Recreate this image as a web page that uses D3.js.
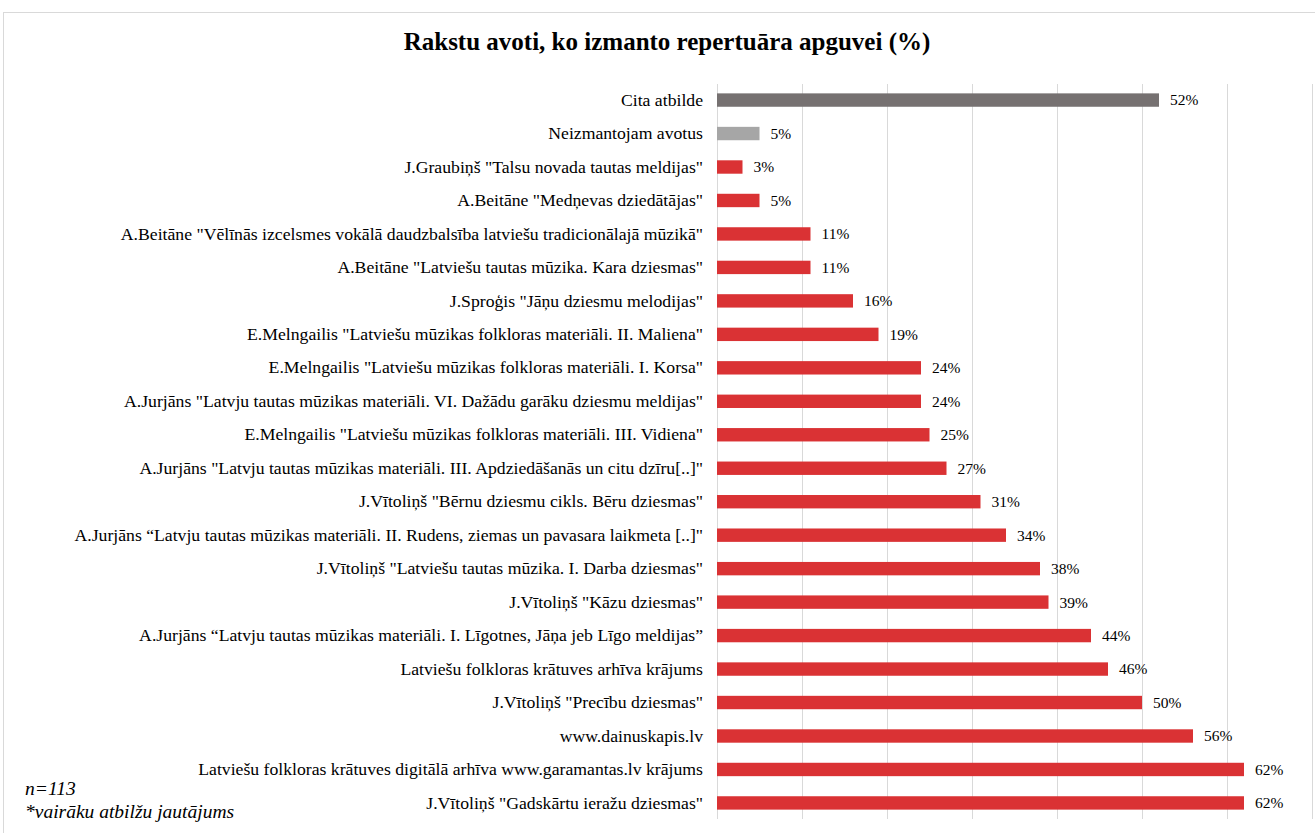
<!DOCTYPE html>
<html>
<head>
<meta charset="utf-8">
<script src="https://cdn.jsdelivr.net/npm/d3@7"></script>
<style>
  body { margin: 0; background: #fff; }
  svg { display: block; font-family: "Liberation Serif", "Times New Roman", serif; }
</style>
</head>
<body>
<script>
// Data, top to bottom as shown
const categories = [
  'Cita atbilde',
  'Neizmantojam avotus',
  'J.Graubiņš "Talsu novada tautas meldijas"',
  'A.Beitāne "Medņevas dziedātājas"',
  'A.Beitāne "Vēlīnās izcelsmes vokālā daudzbalsība latviešu tradicionālajā mūzikā"',
  'A.Beitāne "Latviešu tautas mūzika. Kara dziesmas"',
  'J.Sproģis "Jāņu dziesmu melodijas"',
  'E.Melngailis "Latviešu mūzikas folkloras materiāli. II. Maliena"',
  'E.Melngailis "Latviešu mūzikas folkloras materiāli. I. Korsa"',
  'A.Jurjāns "Latvju tautas mūzikas materiāli. VI. Dažādu garāku dziesmu meldijas"',
  'E.Melngailis "Latviešu mūzikas folkloras materiāli. III. Vidiena"',
  'A.Jurjāns "Latvju tautas mūzikas materiāli. III. Apdziedāšanās un citu dzīru[..]"',
  'J.Vītoliņš "Bērnu dziesmu cikls. Bēru dziesmas"',
  'A.Jurjāns “Latvju tautas mūzikas materiāli. II. Rudens, ziemas un pavasara laikmeta [..]"',
  'J.Vītoliņš "Latviešu tautas mūzika. I. Darba dziesmas"',
  'J.Vītoliņš "Kāzu dziesmas"',
  'A.Jurjāns “Latvju tautas mūzikas materiāli. I. Līgotnes, Jāņa jeb Līgo meldijas”',
  'Latviešu folkloras krātuves arhīva krājums',
  'J.Vītoliņš "Precību dziesmas"',
  'www.dainuskapis.lv',
  'Latviešu folkloras krātuves digitālā arhīva www.garamantas.lv krājums',
  'J.Vītoliņš "Gadskārtu ieražu dziesmas"'
];
const values = [52, 5, 3, 5, 11, 11, 16, 19, 24, 24, 25, 27, 31, 34, 38, 39, 44, 46, 50, 56, 62, 62];
const barColors = ['#767171', '#a6a6a6'];
const mainColor = '#da3234';
const gridTicks = [0, 10, 20, 30, 40, 50, 60, 70];
const title = 'Rakstu avoti, ko izmanto repertuāra apguvei (%)';
const notes = ['n=113', '*vairāku atbilžu jautājums'];

const width = 1315, height = 833;
const margin = { top: 84, right: 3, bottom: 14, left: 717 };

const svg = d3.select('body').append('svg')
  .attr('width', width)
  .attr('height', height);

// chart border
svg.append('rect')
  .attr('x', 3.5).attr('y', 12.5)
  .attr('width', width).attr('height', height)
  .attr('fill', 'none')
  .attr('stroke', '#d9d9d9')
  .attr('stroke-width', 1);

const x = d3.scaleLinear()
  .domain([0, 70])
  .range([margin.left, width - margin.right]);

const y = d3.scaleBand()
  .domain(categories)
  .range([margin.top, height - margin.bottom])
  .paddingInner(0.6)
  .paddingOuter(0.28);

// gridlines
svg.append('g')
  .selectAll('line')
  .data(gridTicks)
  .join('line')
  .attr('x1', d => Math.round(x(d)) + 0.5).attr('x2', d => Math.round(x(d)) + 0.5)
  .attr('y1', margin.top).attr('y2', height - margin.bottom)
  .attr('stroke', '#d9d9d9')
  .attr('stroke-width', 1);

// bars
svg.append('g')
  .selectAll('rect')
  .data(values)
  .join('rect')
  .attr('x', x(0))
  .attr('y', (d, i) => y(categories[i]))
  .attr('width', d => x(d) - x(0))
  .attr('height', y.bandwidth())
  .attr('fill', (d, i) => barColors[i] || mainColor);

// value labels
svg.append('g')
  .selectAll('text')
  .data(values)
  .join('text')
  .attr('x', d => x(d) + 11)
  .attr('y', (d, i) => y(categories[i]) + y.bandwidth() / 2)
  .attr('dy', '0.35em')
  .attr('font-size', 15.5)
  .attr('fill', '#000')
  .text(d => d + '%');

// category labels
svg.append('g')
  .attr('transform', `translate(${margin.left - 14},0)`)
  .call(d3.axisLeft(y).tickSize(0).tickPadding(0))
  .call(g => g.select('.domain').remove())
  .call(g => g.selectAll('text')
    .attr('font-family', '"Liberation Serif", "Times New Roman", serif')
    .attr('font-size', 17.7)
    .attr('fill', '#000'));

// title
svg.append('text')
  .attr('x', 667)
  .attr('y', 50)
  .attr('text-anchor', 'middle')
  .attr('font-size', 25)
  .attr('font-weight', 'bold')
  .text(title);

// notes
svg.append('g')
  .selectAll('text')
  .data(notes)
  .join('text')
  .attr('x', 25)
  .attr('y', (d, i) => 795 + i * 23)
  .attr('font-size', 19.5)
  .attr('font-style', 'italic')
  .text(d => d);
</script>
</body>
</html>
